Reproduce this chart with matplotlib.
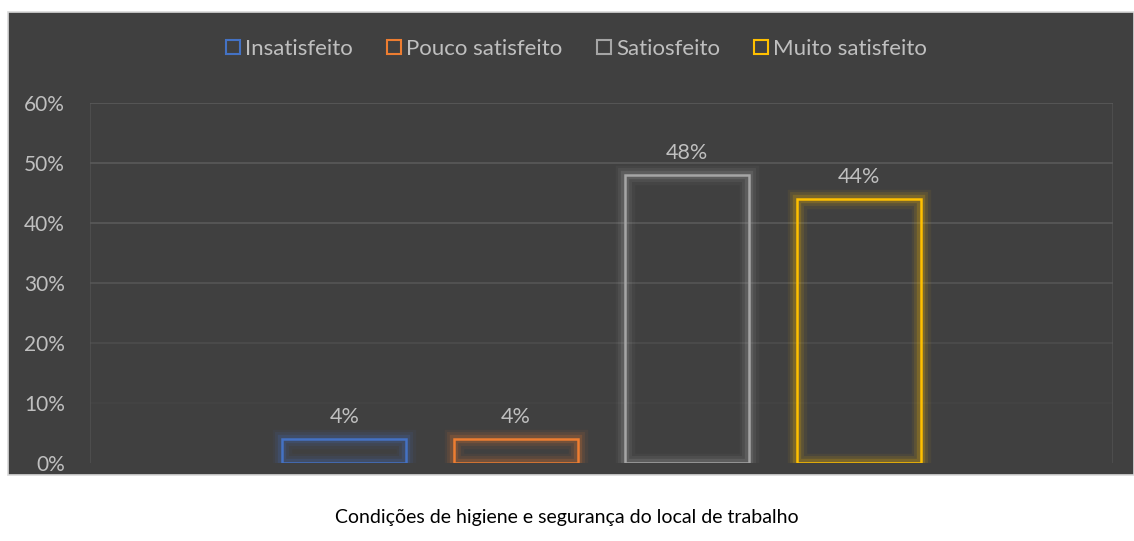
import matplotlib.pyplot as plt
import matplotlib.patheffects as pe
from matplotlib.patches import Rectangle
from matplotlib.lines import Line2D
import numpy as np

### data ###
series = ["Insatisfeito", "Pouco satisfeito", "Satiosfeito", "Muito satisfeito"]
values = [4, 4, 48, 44]
colors = ["#4472c4", "#ed7d31", "#a5a5a5", "#ffc000"]
yticks = [0, 10, 20, 30, 40, 50, 60]
title = "Condições de higiene e segurança do local de trabalho"

bg = "#404040"
txt = "#bfbfbf"
plt.rcParams['font.family'] = ['Lato', 'DejaVu Sans']

fig = plt.figure(figsize=(11.34, 5.41), dpi=100)
fig.patch.set_facecolor("white")
# dark chart panel
fig.patches.append(Rectangle((8/1134, 1-475/541), 1-8/1134, (475-12)/541,
                             transform=fig.transFigure, facecolor=bg,
                             edgecolor="#d9d9d9", linewidth=1.2, zorder=-5))

ax = fig.add_axes([90/1134, 1-463/541, (1113-90)/1134, (463-103)/541])
ax.set_zorder(2)
ax.set_facecolor("none")
x = np.arange(len(series))
ax.set_xlim(-1.483, 4.483)
ax.set_ylim(0, 60)

# gridlines fading towards the bottom
for t in yticks[1:]:
    a = min(1.0, 0.15 + (t - 10) / 30)
    ax.axhline(t, color="#5a5a5a", linewidth=1.2, alpha=a, zorder=1)
for xv in ax.get_xlim():
    ax.plot([xv, xv], [0, 60], color="#5a5a5a", linewidth=1.2, alpha=0.6, zorder=1)

# outlined bars with soft glow
glow = lambda c: [pe.Stroke(linewidth=14, foreground=c, alpha=0.06),
                  pe.Stroke(linewidth=10, foreground=c, alpha=0.10),
                  pe.Stroke(linewidth=6, foreground=c, alpha=0.18),
                  pe.Normal()]
bars = ax.bar(x, values, width=0.723, facecolor="none", linewidth=1.8, zorder=3)
for b, c in zip(bars, colors):
    b.set_edgecolor(c)
    b.set_path_effects(glow(c))

for xi, v in zip(x, values):
    ax.text(xi, v + 2.0, f"{v}%", ha="center", va="bottom", color=txt, fontsize=15.5)

ax.set_yticks(yticks)
ax.set_yticklabels([f"{t}%" for t in yticks], color=txt, fontsize=15)
ax.tick_params(axis="y", length=0, pad=18)
ax.set_xticks([])
for s in ax.spines.values():
    s.set_visible(False)

handles = [Line2D([], [], marker="s", linestyle="none", markersize=10,
                  markerfacecolor="none", markeredgecolor=c, markeredgewidth=1.5)
           for c in colors]
leg = fig.legend(handles, series, loc="center", bbox_to_anchor=(0.508, 1-49/541),
                 ncol=4, frameon=False, fontsize=16, handlelength=0.7,
                 handletextpad=0.2, columnspacing=1.5, labelcolor=txt)

fig.text(0.5, 1-517/541, title, ha="center", va="center", color="black", fontsize=14)

fig.savefig("out.png", dpi=100, facecolor="white")
